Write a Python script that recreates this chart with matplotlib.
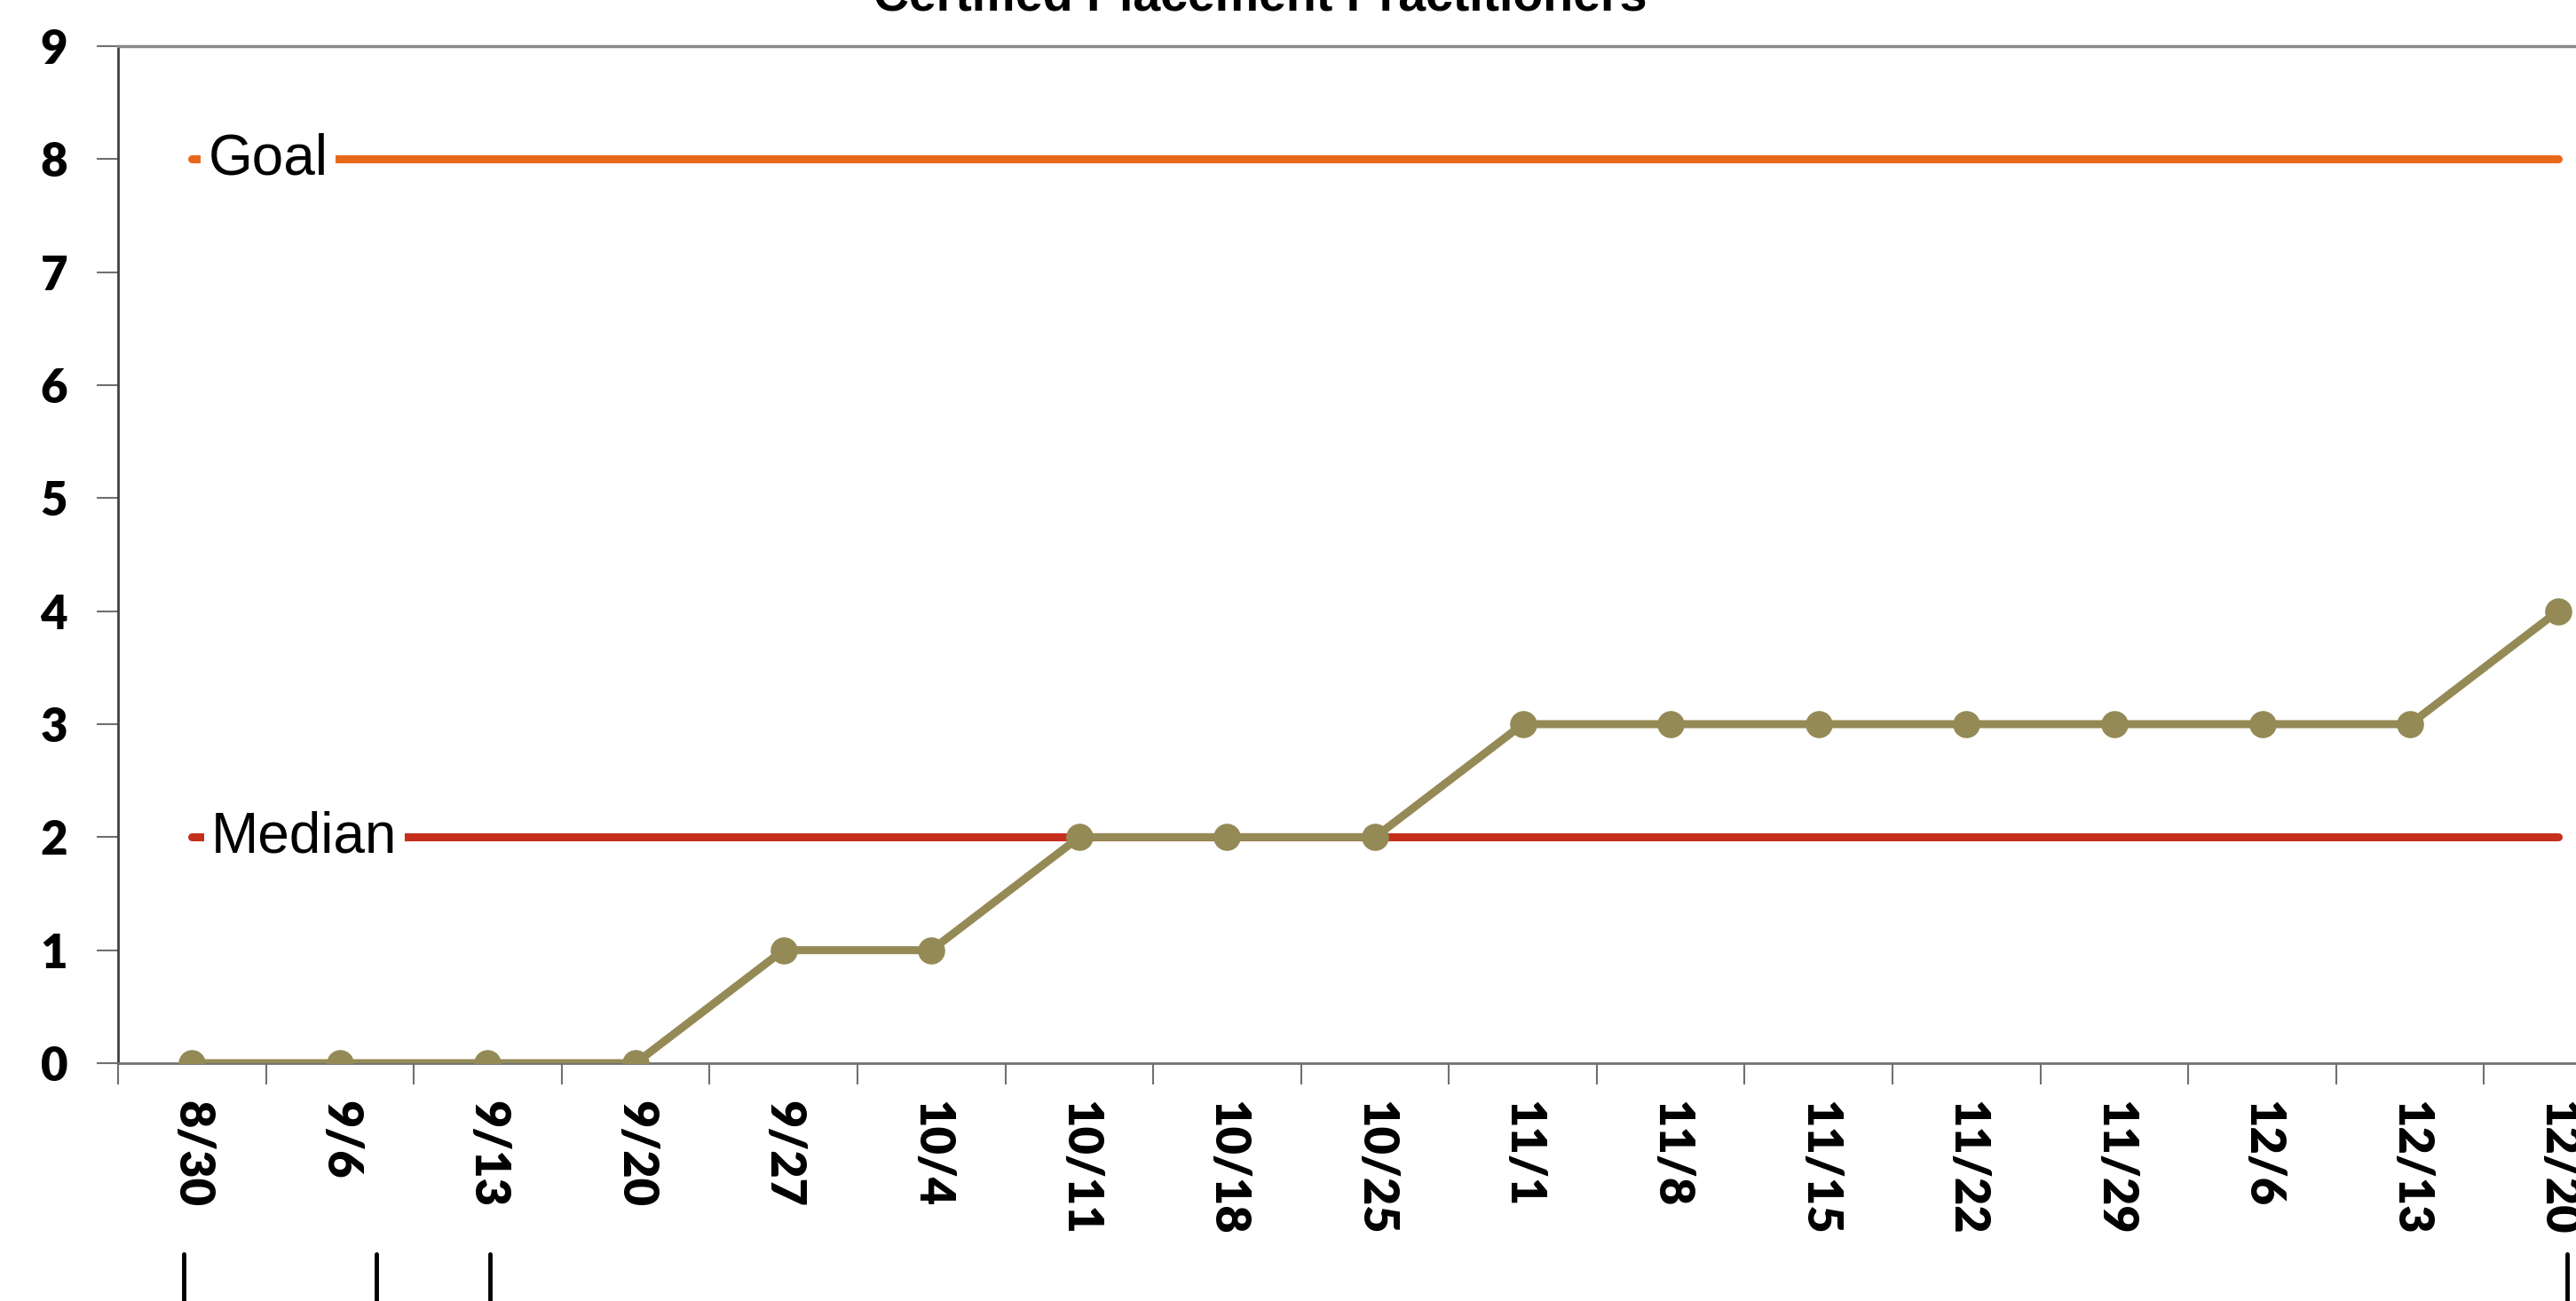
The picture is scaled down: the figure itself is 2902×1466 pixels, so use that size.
import matplotlib
matplotlib.use('Agg')
from matplotlib import pyplot as plt
from matplotlib.lines import Line2D

# weekly counts of certified placement practitioners
weeks = ['8/30', '9/6', '9/13', '9/20', '9/27', '10/4', '10/11', '10/18', '10/25',
         '11/1', '11/8', '11/15', '11/22', '11/29', '12/6', '12/13', '12/20']
practitioners = [0, 0, 0, 0, 1, 1, 2, 2, 2, 3, 3, 3, 3, 3, 3, 3, 4]
goal_value = 8
median_value = 2
y_ticks = list(range(0, 10))

W, H = 2902, 1466
fig = plt.figure(figsize=(W / 100, H / 100), dpi=100)

# axes runs a little past the right edge, like the cropped original
ax = fig.add_axes([133 / W, 1 - 1198 / H, 2832 / W, (1198 - 52) / H])

x = list(range(len(weeks)))
ax.plot([x[0], x[-1]], [goal_value] * 2, color='#E8681A', lw=6.5,
        solid_capstyle='round', zorder=2)
ax.plot([x[0], x[-1]], [median_value] * 2, color='#C4301C', lw=6.5,
        solid_capstyle='round', zorder=2)
ax.plot(x, practitioners, color='#948A56', lw=6.5, marker='o', markersize=21,
        zorder=4)

label_font = dict(family='Liberation Sans', fontsize=46, va='center', ha='left',
                  zorder=3, bbox=dict(facecolor='white', edgecolor='none', pad=6))
ax.text(0.11, goal_value, 'Goal', **label_font)
ax.text(0.13, median_value, 'Median', **label_font)

ax.set_xlim(-0.5, len(weeks) - 0.5)
ax.set_ylim(0, 9)
ax.set_yticks(y_ticks)
ax.set_yticklabels([str(v) for v in y_ticks], family='Lato', weight='heavy',
                   fontsize=38)
ax.set_xticks(x)
ax.set_xticklabels(weeks, family='Lato', weight='heavy', fontsize=39,
                   rotation=-90, va='top', ha='center')
ax.set_xticks([i - 0.5 for i in range(len(weeks) + 1)], minor=True)
ax.tick_params(axis='x', which='major', length=0, pad=30)
ax.tick_params(axis='x', which='minor', length=17, width=1.5, color='#707070')
ax.tick_params(axis='y', length=17, width=1.5, color='#707070', pad=24)

ax.spines['right'].set_visible(False)
ax.spines['top'].set_color('#888888')
ax.spines['top'].set_linewidth(2.5)
ax.spines['left'].set_color('#404040')
ax.spines['left'].set_linewidth(2)
ax.spines['bottom'].set_color('#707070')
ax.spines['bottom'].set_linewidth(2)

# title, mostly cut off by the top edge
fig.text(1420 / W, 1 - 12 / H, 'Certified Placement Practitioners',
         family='Liberation Sans', weight='bold', fontsize=40,
         ha='center', va='baseline')

# fragments of cut-off text at the bottom edge
for px in [207, 424, 552, 2892]:
    fig.add_artist(Line2D([px / W, px / W], [0, 1 - 1413 / H],
                          transform=fig.transFigure, color='black', lw=3.5,
                          solid_capstyle='round'))

fig.savefig('out.png', dpi=100)
